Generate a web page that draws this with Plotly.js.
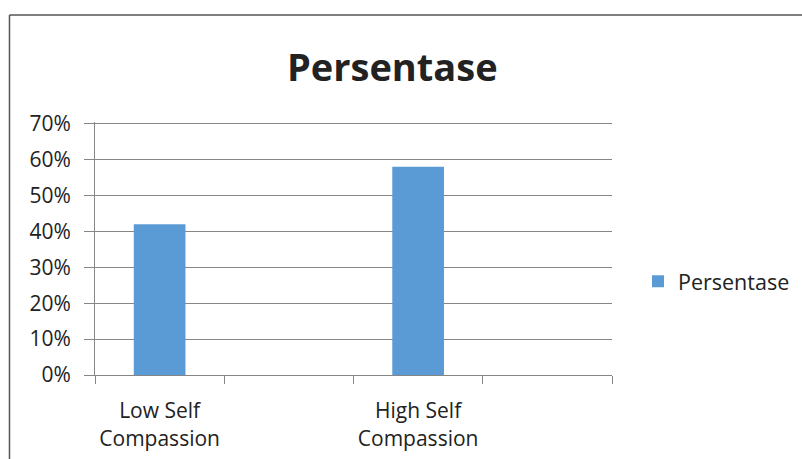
<!DOCTYPE html>
<html>
<head>
<meta charset="utf-8">
<script src="https://cdn.plot.ly/plotly-3.0.1.min.js"></script>
<style>html,body{margin:0;padding:0;background:#fff;}#chart{width:802px;height:459px;}</style>
</head>
<body>
<div id="chart"></div>
<script>
const categories = ["Low Self<br>Compassion", " ", "High Self<br>Compassion", "  "];
const seriesName = "Persentase";
const values = [0.42, null, 0.58, null];
const yTickVals = [0, 0.1, 0.2, 0.3, 0.4, 0.5, 0.6, 0.7];
const yTickText = ["0%", "10%", "20%", "30%", "40%", "50%", "60%", "70%"];

const FONT = "'Open Sans', 'Noto Sans', sans-serif";
const trace = {
  type: "bar",
  name: seriesName,
  x: categories,
  y: values,
  marker: {color: "#5B9BD5"},
  showlegend: true,
  hoverinfo: "none"
};

const layout = {
  width: 802, height: 459,
  margin: {l: 95, r: 190, t: 122, b: 84, pad: 0, autoexpand: false},
  paper_bgcolor: "#ffffff",
  plot_bgcolor: "#ffffff",
  bargap: 0.6,
  font: {family: FONT, size: 21, color: "#222222"},
  title: {
    text: "<b>Persentase</b>",
    font: {family: FONT, size: 38, color: "#222222"},
    x: 0.575, xref: "paper", xanchor: "center",
    y: 0.852, yref: "container", yanchor: "middle"
  },
  xaxis: {
    type: "category",
    tickson: "boundaries",
    tickangle: 0,
    ticks: "outside", ticklen: 8, tickcolor: "#868686", tickwidth: 1,
    showline: true, linecolor: "#868686", linewidth: 1,
    showgrid: false,
    tickfont: {family: FONT, size: 21, color: "#222222"},
    ticklabelstandoff: 17,
    fixedrange: true
  },
  yaxis: {
    range: [0, 0.705],
    tickvals: yTickVals, ticktext: yTickText,
    ticks: "outside", ticklen: 10, tickcolor: "#868686", tickwidth: 1,
    showline: true, linecolor: "#868686", linewidth: 1,
    showgrid: true, gridcolor: "#868686", gridwidth: 1,
    zeroline: false,
    tickfont: {family: FONT, size: 21, color: "#222222"},
    ticklabelstandoff: 9,
    fixedrange: true
  },
  legend: {
    xref: "container", yref: "container",
    x: 0.7955, xanchor: "left", y: 0.387, yanchor: "middle",
    font: {family: FONT, size: 21.5, color: "#222222"},
    bgcolor: "rgba(0,0,0,0)"
  },
  shapes: [
    {type: "line", xref: "paper", yref: "paper", x0: -0.1654, x1: -0.1654, y0: -0.4, y1: 1.4225, line: {color: "#555555", width: 1.5}},
    {type: "line", xref: "paper", yref: "paper", x0: -0.1654, x1: 1.5, y0: 1.4225, y1: 1.4225, line: {color: "#555555", width: 1.5}}
  ]
};

Plotly.newPlot("chart", [trace], layout, {displayModeBar: false, staticPlot: true});
</script>
</body>
</html>
